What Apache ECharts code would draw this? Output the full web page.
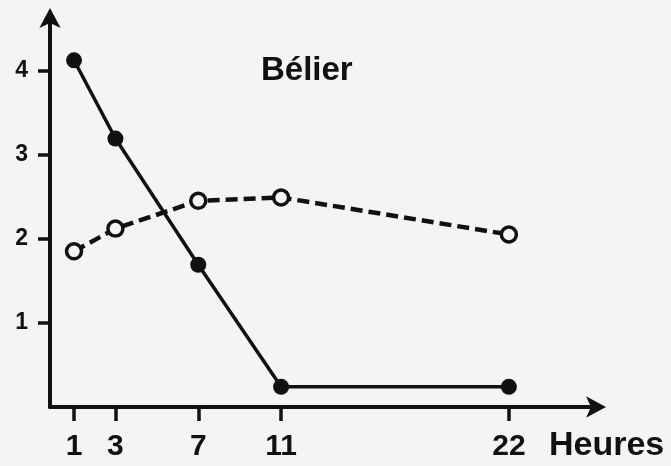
<!DOCTYPE html>
<html>
<head>
<meta charset="utf-8">
<script src="https://cdn.jsdelivr.net/npm/echarts@6/dist/echarts.min.js"></script>
<style>
html,body{margin:0;padding:0;background:#f4f4f2;}
#c{width:671px;height:466px;}
</style>
</head>
<body>
<div id="c"></div>
<script>
const hours = [1, 3, 7, 11, 22];
const xTickValues = [1, 3, 7, 11, 22];
const yTickValues = [1, 2, 3, 4];
const filledSeries = [4.12, 3.19, 1.69, 0.24, 0.24];
const openSeries = [1.85, 2.12, 2.45, 2.49, 2.05];
const title = 'Bélier';
const xName = 'Heures';

const ink = '#111';
const paper = '#f4f4f2';
const font = '"Liberation Sans", Arial, sans-serif';

const chart = echarts.init(document.getElementById('c'));
chart.setOption({
  backgroundColor: paper,
  animation: false,
  title: [
    { text: title, left: 256, top: 49,
      textStyle: { fontFamily: font, fontSize: 33, fontWeight: 'bold', color: ink } },
    { text: xName, left: 544, top: 424,
      textStyle: { fontFamily: font, fontSize: 34, fontWeight: 'bold', color: ink } }
  ],
  grid: { left: 50, right: 71, top: 14, bottom: 59 },
  xAxis: {
    type: 'value',
    min: -0.16,
    max: 26.4,
    splitLine: { show: false },
    axisLine: { show: true, symbol: ['none', 'arrow'], symbolSize: [16, 20], symbolOffset: [0, 6],
      lineStyle: { color: ink, width: 4 } },
    axisTick: { show: true, customValues: xTickValues, length: 14, lineStyle: { color: ink, width: 3.5 } },
    axisLabel: { customValues: xTickValues, margin: 25, color: ink, fontFamily: font,
      fontSize: 30, fontWeight: 'bold' }
  },
  yAxis: {
    type: 'value',
    min: 0,
    max: 4.67,
    splitLine: { show: false },
    axisLine: { show: true, onZero: false, symbol: ['none', 'arrow'], symbolSize: [16, 20], symbolOffset: [0, 6],
      lineStyle: { color: ink, width: 4 } },
    axisTick: { show: true, customValues: yTickValues, length: 12, lineStyle: { color: ink, width: 3.5 } },
    axisLabel: { customValues: yTickValues, margin: 22, color: ink, fontFamily: font,
      fontSize: 23, fontWeight: 'bold' }
  },
  series: [
    {
      type: 'line',
      data: hours.map((h, i) => [h, filledSeries[i]]),
      symbol: 'circle',
      symbolSize: 16,
      itemStyle: { color: ink },
      lineStyle: { color: ink, width: 3.5 },
      z: 3
    },
    {
      type: 'line',
      data: hours.map((h, i) => [h, openSeries[i]]),
      symbol: 'circle',
      symbolSize: 15,
      itemStyle: { color: paper, borderColor: ink, borderWidth: 3.5 },
      lineStyle: { color: ink, width: 4.5, type: [12, 6] },
      z: 4
    }
  ]
});
</script>
</body>
</html>
